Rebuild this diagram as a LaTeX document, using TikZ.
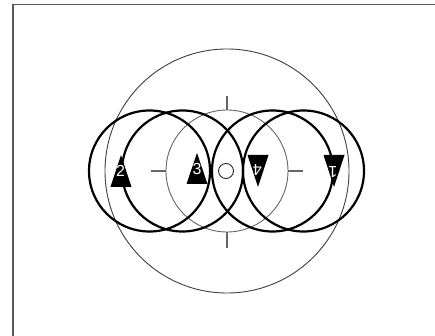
\documentclass[tikz,border=0pt]{standalone}
\usepackage{fontspec}
\setmainfont{Liberation Sans}
\usepackage{tikz}
\usetikzlibrary{positioning}

\begin{document}
\begin{tikzpicture}[
  x=1pt, y=-1pt,
  ring/.style={circle, draw=black, line width=2.2pt, minimum size=121pt, inner sep=0pt},
  outerring/.style={circle, draw=black!75, line width=0.9pt, minimum size=244pt, inner sep=0pt},
  midring/.style={circle, draw=black!60, line width=0.9pt, minimum size=122pt, inner sep=0pt},
  hub/.style={circle, draw=black!85, line width=0.9pt, minimum size=15pt, inner sep=0pt},
  tick/.style={draw=black!60, line width=1.2pt},
  frame/.style={draw=black!65, line width=1.4pt},
  digit/.style={text=white, font=\fontsize{16}{16}\selectfont, inner sep=0pt}
]
\clip (0,0) rectangle (435,336);
\fill[white] (0,0) rectangle (435,336);
\draw[frame] (13,4.5) rectangle (470,370);

% rings
\node[outerring] (outer) at (227,171) {};
\node[midring] (mid) at (227,171) {};
\node[hub] (hub) at (226,171) {};
\node[ring] (ringA) at (149.5,171) {};
\node[ring] (ringB) at (182.5,171) {};
\node[ring] (ringC) at (272.5,171) {};
\node[ring] (ringD) at (303.5,171) {};

% cross ticks
\draw[tick] (mid.north) -- ++(0,-14);
\draw[tick] (mid.south) -- ++(0,16);
\draw[tick] (mid.west) -- ++(-15,0);
\draw[tick] (mid.east) -- ++(15,0);

% markers
\fill (121,155) -- (131.5,187) -- (110.5,187) -- cycle;
\node[digit] (n2) at (120.5,171) {2};
\fill (197,153) -- (207.5,184) -- (186.5,184) -- cycle;
\node[digit] (n3) at (197,169) {3};
\fill (258,187) -- (268.5,155) -- (247.5,155) -- cycle;
\node[digit, rotate=180] (n4) at (257.5,170) {4};
\fill (334,187) -- (344.5,155) -- (323.5,155) -- cycle;
\node[digit, rotate=180] (n1) at (333,172) {1};

\end{tikzpicture}
\end{document}
